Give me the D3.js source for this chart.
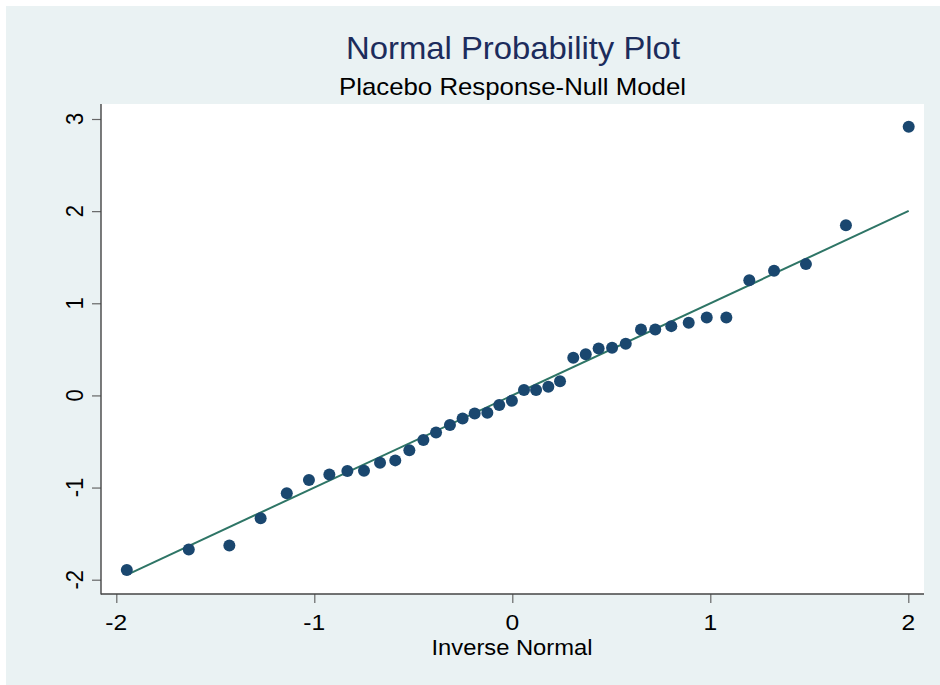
<!DOCTYPE html>
<html>
<head>
<meta charset="utf-8">
<script src="https://cdn.jsdelivr.net/npm/d3@7"></script>
<style>
  body { margin: 0; background: #fff; }
  svg { display: block; font-family: "Liberation Sans", Arial, sans-serif; }
</style>
</head>
<body>
<svg width="940" height="685"></svg>
<script>
const invNormal = [-1.947, -1.634, -1.429, -1.271, -1.139, -1.027, -0.924, -0.833, -0.749, -0.668,
                   -0.591, -0.520, -0.449, -0.385, -0.315, -0.251, -0.190, -0.126, -0.066, -0.002,
                    0.059,  0.120,  0.182,  0.241,  0.308,  0.371,  0.436,  0.504,  0.573,  0.650,
                    0.722,  0.803,  0.891,  0.982,  1.081,  1.197,  1.322,  1.483,  1.685,  2.002];
const response = [-1.896, -1.671, -1.628, -1.332, -1.063, -0.919, -0.857, -0.821, -0.818, -0.731,
                  -0.705, -0.594, -0.485, -0.402, -0.322, -0.250, -0.195, -0.189, -0.105, -0.059,
                   0.058,  0.058,  0.093,  0.155,  0.408,  0.448,  0.510,  0.517,  0.560,  0.716,
                   0.716,  0.752,  0.788,  0.846,  0.846,  1.251,  1.352,  1.425,  1.848,  2.915];
// reference line y = x over the range of the data
const refX = [-1.944, 2.002];
const refY = [-1.944, 2.002];
const xTicks = [-2, -1, 0, 1, 2];
const yTicks = [-2, -1, 0, 1, 2, 3];

const points = invNormal.map((x, i) => ({x: x, y: response[i]}));
const refLine = refX.map((x, i) => ({x: x, y: refY[i]}));

const svg = d3.select("svg"),
      plot = {left: 101, top: 104, right: 924, bottom: 594};

// outer graph region
svg.append("rect").attr("x", 6).attr("y", 6).attr("width", 934).attr("height", 679)
   .attr("fill", "#eaf2f3");
svg.append("rect").attr("x", plot.left).attr("y", plot.top)
   .attr("width", plot.right - plot.left).attr("height", plot.bottom - plot.top)
   .attr("fill", "#fff");

const x = d3.scaleLinear().domain([-2, 2]).range([116.3, 908.3]);
const y = d3.scaleLinear().domain([-2, 3]).range([579.7, 119]);

// axes
const xAxis = svg.append("g").attr("transform", "translate(0," + plot.bottom + ")")
  .call(d3.axisBottom(x).tickValues(xTicks).tickSize(9).tickSizeOuter(0).tickFormat(d3.format("d")));
const yAxis = svg.append("g").attr("transform", "translate(" + plot.left + ",0)")
  .call(d3.axisLeft(y).tickValues(yTicks).tickSize(9).tickSizeOuter(0).tickFormat(d3.format("d")));

[xAxis, yAxis].forEach(a => {
  a.select(".domain").remove();
  a.selectAll(".tick line").attr("stroke", "#666").attr("stroke-width", 1.2);
  a.selectAll(".tick text").remove();
});

svg.append("line").attr("x1", plot.left).attr("x2", plot.left)
   .attr("y1", plot.top).attr("y2", plot.bottom + 0.5)
   .attr("stroke", "#444").attr("stroke-width", 1.4);
svg.append("line").attr("x1", plot.left).attr("x2", plot.right)
   .attr("y1", plot.bottom).attr("y2", plot.bottom)
   .attr("stroke", "#444").attr("stroke-width", 1.4);

const fmt = d => d3.format("d")(d).replace("\u2212", "-");

// x tick labels (slightly wide glyphs like the reference)
svg.append("g").selectAll("text").data(xTicks).join("text")
   .attr("transform", d => "translate(" + x(d) + ",630) scale(1.12,1)")
   .attr("text-anchor", "middle").attr("font-size", 22).attr("fill", "#000")
   .text(fmt);

// y tick labels, rotated
svg.append("g").selectAll("text").data(yTicks).join("text")
   .attr("transform", d => "translate(82.5," + y(d) + ") rotate(-90) scale(1,1.12)")
   .attr("text-anchor", "middle").attr("font-size", 22).attr("fill", "#000")
   .text(fmt);

// reference line
const line = d3.line().x(d => x(d.x)).y(d => y(d.y));
svg.append("path").datum(refLine).attr("d", line)
   .attr("fill", "none").attr("stroke", "#2e7566").attr("stroke-width", 2);

// observed points
svg.append("g").selectAll("circle").data(points).join("circle")
   .attr("cx", d => x(d.x)).attr("cy", d => y(d.y)).attr("r", 6)
   .attr("fill", "#1a476f");

// titles
const addText = (str, cx, by, size, color, width) =>
  svg.append("text").attr("x", cx).attr("y", by).attr("text-anchor", "middle")
     .attr("font-size", size).attr("fill", color)
     .attr("textLength", width).attr("lengthAdjust", "spacingAndGlyphs")
     .text(str);

addText("Normal Probability Plot", 513, 59, 32, "#1c2c5c", 334);
addText("Placebo Response-Null Model", 512.5, 95, 24, "#000", 347);
addText("Inverse Normal", 512, 655, 22, "#000", 161);
</script>
</body>
</html>
